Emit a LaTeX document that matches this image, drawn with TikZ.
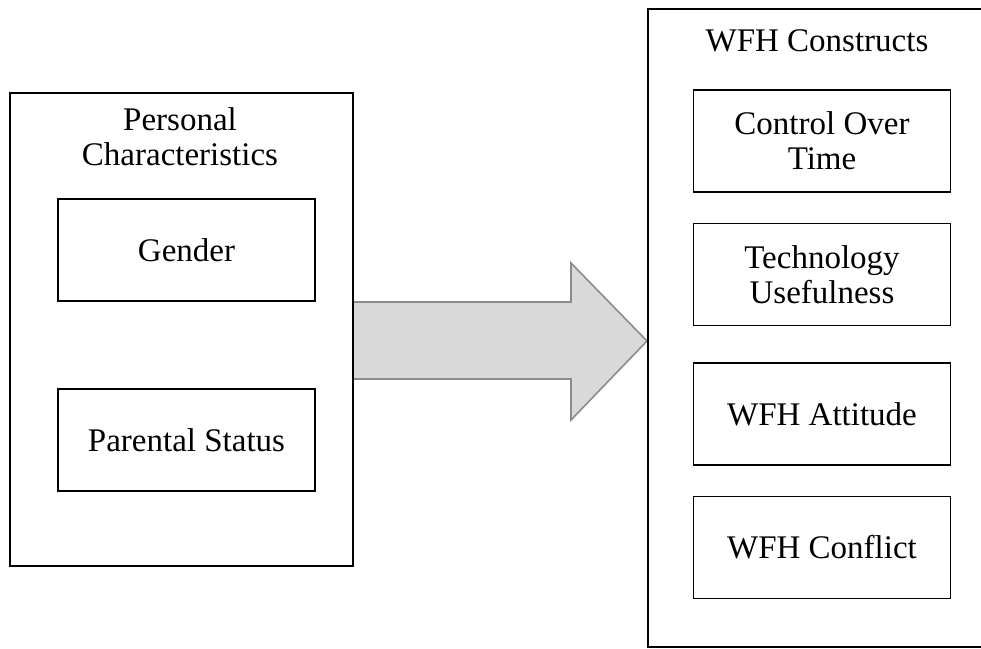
\documentclass[tikz,border=0pt]{standalone}
\usepackage{fontspec}
\setmainfont{Liberation Serif}
\begin{document}
\begin{tikzpicture}[x=1pt,y=-1pt,
  frame/.style={draw=black,line width=1.6pt,rectangle,inner sep=0pt},
  itembox/.style={frame,minimum width=257pt,minimum height=102pt,align=center,
    font=\fontsize{33}{35}\selectfont},
  title/.style={align=center,font=\fontsize{33}{35}\selectfont,inner sep=0pt},
  bigarrow/.style={fill=arrowfill,draw=arrowline,line width=1.6pt,line join=miter}]
\definecolor{arrowfill}{HTML}{D9D9D9}
\definecolor{arrowline}{HTML}{8C8C8C}
\clip (0,0) rectangle (981,648);

% block arrow between the two groups
\coordinate (a1) at (353,302);
\coordinate (a2) at (571,302);
\coordinate (a3) at (571,263);
\coordinate (tip) at (647,341);
\coordinate (a5) at (571,420);
\coordinate (a6) at (571,379);
\coordinate (a7) at (353,379);
\draw[bigarrow] (a1) -- (a2) -- (a3) -- (tip) -- (a5) -- (a6) -- (a7) -- cycle;

% left group
\node[frame,minimum width=343pt,minimum height=473pt] (personal) at (181.5,329.5) {};
\node[title] (ptitle) at (180,137) {Personal\\Characteristics};
\node[itembox] (gender) at (186.5,250) {Gender};
\node[itembox] (parental) at (186.5,440) {Parental Status};

% right group, running past the right edge
\node[frame,minimum width=380pt,minimum height=638pt] (wfh) at (838,328) {};
\node[title] (wtitle) at (817,41) {WFH Constructs};
\node[itembox] (control) at (822,141) {Control Over\\Time};
\node[itembox] (tech) at (822,274.5) {Technology\\Usefulness};
\node[itembox] (attitude) at (822,414) {WFH Attitude};
\node[itembox] (conflict) at (822,547.5) {WFH Conflict};
\end{tikzpicture}
\end{document}
